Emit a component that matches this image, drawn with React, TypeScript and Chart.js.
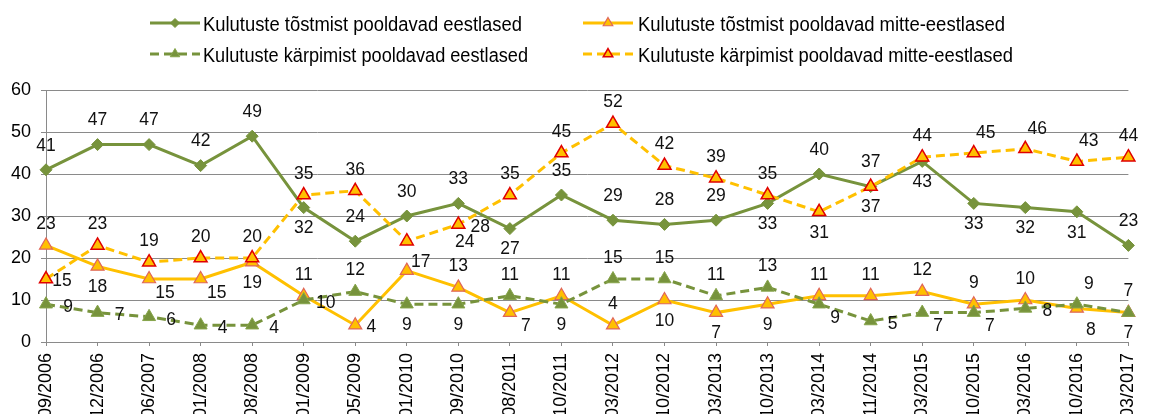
import React, { useEffect, useRef } from 'react';
import { Chart, registerables } from 'chart.js';
import { drawPoint } from 'chart.js/helpers';

Chart.register(...registerables);

// ---------- data ----------
const categories = [
  '09/2006', '12/2006', '06/2007', '01/2008', '08/2008', '01/2009', '05/2009', '01/2010',
  '09/2010', '08/2011', '10/2011', '03/2012', '10/2012', '03/2013', '10/2013', '03/2014',
  '11/2014', '03/2015', '10/2015', '03/2016', '10/2016', '03/2017',
];
const seriesNames = [
  'Kulutuste tõstmist pooldavad eestlased',
  'Kulutuste tõstmist pooldavad mitte-eestlased',
  'Kulutuste kärpimist pooldavad eestlased',
  'Kulutuste kärpimist pooldavad mitte-eestlased',
];
const raiseEstonians = [41, 47, 47, 42, 49, 32, 24, 30, 33, 27, 35, 29, 28, 29, 33, 40, 37, 43, 33, 32, 31, 23];
const raiseNonEstonians = [23, 18, 15, 15, 19, 11, 4, 17, 13, 7, 11, 4, 10, 7, 9, 11, 11, 12, 9, 10, 8, 7];
const cutEstonians = [9, 7, 6, 4, 4, 10, 12, 9, 9, 11, 9, 15, 15, 11, 13, 9, 5, 7, 7, 8, 9, 7];
const cutNonEstonians = [15, 23, 19, 20, 20, 35, 36, 24, 28, 35, 45, 52, 42, 39, 35, 31, 37, 44, 45, 46, 43, 44];
const yMin = 0;
const yMax = 60;
const yStep = 10;

// ---------- label placement (style only) ----------
const placeRaiseEst = ['a','a','a','a','a','b','a','a','a','b','a','a','a','a','b','a','a','b','b','b','b','a'];
const placeRaiseNon = ['a','b','rb','rb','b','a','rn','ra','a','rb','a','a','b','b','b','a','a','a','a','a','br','b'];
const placeCutEst = ['r','r','r','r','r','r','a','b','b','a','b','a','a','a','a','rb','r','rb','rb','r','ar','a'];
const placeCutNon = ['rn','a','a','a','a','a','a','rr','r','a','a','a','a','a','a','b','b','a','ar','ar','ar','a'];

const FONT = '"Liberation Sans", Arial, Helvetica, sans-serif';
const GREEN = '#77933C';
const YELLOW = '#FFC000';
const GRID = '#8a8a8a';

const offsets: Record<string, [number, number]> = {
  a: [0, -21],
  b: [0, 21],
  r: [22, 3],
  rn: [16, 2],
  rb: [16, 14],
  ra: [14, -8],
  ar: [12, -20],
  br: [14, 22],
  rr: [58, 1],
};

const labelPlugin = {
  id: 'pointLabels',
  afterDatasetsDraw(chart: any) {
    const ctx = chart.ctx;
    const placements = [placeRaiseEst, placeRaiseNon, placeCutEst, placeCutNon];
    ctx.save();
    ctx.font = `17.5px ${FONT}`;
    ctx.fillStyle = '#111';
    ctx.textAlign = 'center';
    ctx.textBaseline = 'middle';
    chart.data.datasets.forEach((ds: any, di: number) => {
      const meta = chart.getDatasetMeta(di);
      meta.data.forEach((pt: any, i: number) => {
        const code = placements[di][i];
        const off = offsets[code] || [0, -21];
        let dy = off[1];
        if (code === 'a' && di === 0) dy = -24;
        ctx.fillText(String(ds.data[i]), pt.x + off[0], pt.y + dy);
      });
    });
    ctx.restore();
  },
};

const legendItems = [
  { ds: 0, x: 150, y: 23, base: 30.5, tx: 203, w: 319 },
  { ds: 1, x: 583, y: 23, base: 30.5, tx: 638, w: 367 },
  { ds: 2, x: 150, y: 54, base: 61.5, tx: 203, w: 325 },
  { ds: 3, x: 583, y: 54, base: 61.5, tx: 638, w: 375 },
];

const legendPlugin = {
  id: 'customLegend',
  afterDraw(chart: any) {
    const ctx = chart.ctx;
    legendItems.forEach((it) => {
      const ds = chart.data.datasets[it.ds];
      ctx.save();
      ctx.strokeStyle = ds.borderColor;
      ctx.lineWidth = 3;
      ctx.setLineDash(ds.borderDash || []);
      ctx.beginPath();
      ctx.moveTo(it.x, it.y);
      ctx.lineTo(it.x + 50, it.y);
      ctx.stroke();
      ctx.setLineDash([]);
      ctx.fillStyle = ds.pointBackgroundColor;
      ctx.strokeStyle = ds.pointBorderColor;
      ctx.lineWidth = ds.pointBorderWidth;
      drawPoint(ctx, {
        pointStyle: ds.pointStyle,
        rotation: 0,
        radius: ds.pointStyle === 'rectRot' ? 4.5 : 5.5,
        borderWidth: ds.pointBorderWidth,
      } as any, it.x + 25, it.y);
      ctx.fillStyle = '#000';
      ctx.font = `20px ${FONT}`;
      ctx.textAlign = 'left';
      ctx.textBaseline = 'alphabetic';
      ctx.fillText(seriesNames[it.ds], it.tx, it.base, it.w);
      ctx.restore();
    });
  },
};

export default function App() {
  const ref = useRef<HTMLCanvasElement | null>(null);

  useEffect(() => {
    document.body.style.margin = '0';
    if (!ref.current) return;
    const chart = new Chart(ref.current, {
      type: 'line',
      data: {
        labels: categories,
        datasets: [
          {
            label: seriesNames[0],
            data: raiseEstonians,
            borderColor: GREEN,
            backgroundColor: GREEN,
            borderWidth: 3,
            pointStyle: 'rectRot',
            pointRadius: 6,
            pointBorderWidth: 1,
            pointBackgroundColor: GREEN,
            pointBorderColor: GREEN,
            tension: 0,
            order: 3,
          },
          {
            label: seriesNames[1],
            data: raiseNonEstonians,
            borderColor: YELLOW,
            backgroundColor: YELLOW,
            borderWidth: 3,
            pointStyle: 'triangle',
            pointRadius: 7.5,
            pointBorderWidth: 1.2,
            pointBackgroundColor: YELLOW,
            pointBorderColor: '#E0665A',
            tension: 0,
            order: 2,
          },
          {
            label: seriesNames[2],
            data: cutEstonians,
            borderColor: GREEN,
            backgroundColor: GREEN,
            borderWidth: 3,
            borderDash: [9, 5],
            pointStyle: 'triangle',
            pointRadius: 7.5,
            pointBorderWidth: 1,
            pointBackgroundColor: GREEN,
            pointBorderColor: '#86A44A',
            tension: 0,
            order: 1,
          },
          {
            label: seriesNames[3],
            data: cutNonEstonians,
            borderColor: YELLOW,
            backgroundColor: YELLOW,
            borderWidth: 3,
            borderDash: [9, 5],
            pointStyle: 'triangle',
            pointRadius: 7.5,
            pointBorderWidth: 1.5,
            pointBackgroundColor: YELLOW,
            pointBorderColor: '#E00000',
            tension: 0,
            order: 0,
          },
        ],
      },
      options: {
        responsive: false,
        animation: false,
        layout: { padding: { top: 90, right: 14, left: 0, bottom: 0 } },
        plugins: {
          legend: { display: false },
          tooltip: { enabled: false },
        },
        scales: {
          x: {
            offset: false,
            grid: { display: true, drawOnChartArea: false, drawTicks: true, tickLength: 4, color: GRID },
            border: { display: true, color: GRID, width: 1 },
            ticks: {
              autoSkip: false,
              minRotation: 90,
              maxRotation: 90,
              padding: 7,
              color: '#000',
              font: { family: FONT, size: 18 },
            },
            afterFit(s: any) {
              s.height = 414 - 342;
            },
          },
          y: {
            min: yMin,
            max: yMax,
            ticks: { stepSize: yStep, color: '#000', padding: 10, font: { family: FONT, size: 18 } },
            grid: { color: GRID, lineWidth: 1, tickLength: 5 },
            border: { display: true, color: GRID, width: 1 },
            afterFit(s: any) {
              s.width = 46;
            },
          },
        },
      },
      plugins: [labelPlugin, legendPlugin],
    } as any);
    return () => chart.destroy();
  }, []);

  return (
    <div style={{ position: 'fixed', left: 0, top: 0, width: 1157, height: 414, background: '#fff' }}>
      <canvas ref={ref} width={1157} height={414} style={{ display: 'block' }} />
    </div>
  );
}
